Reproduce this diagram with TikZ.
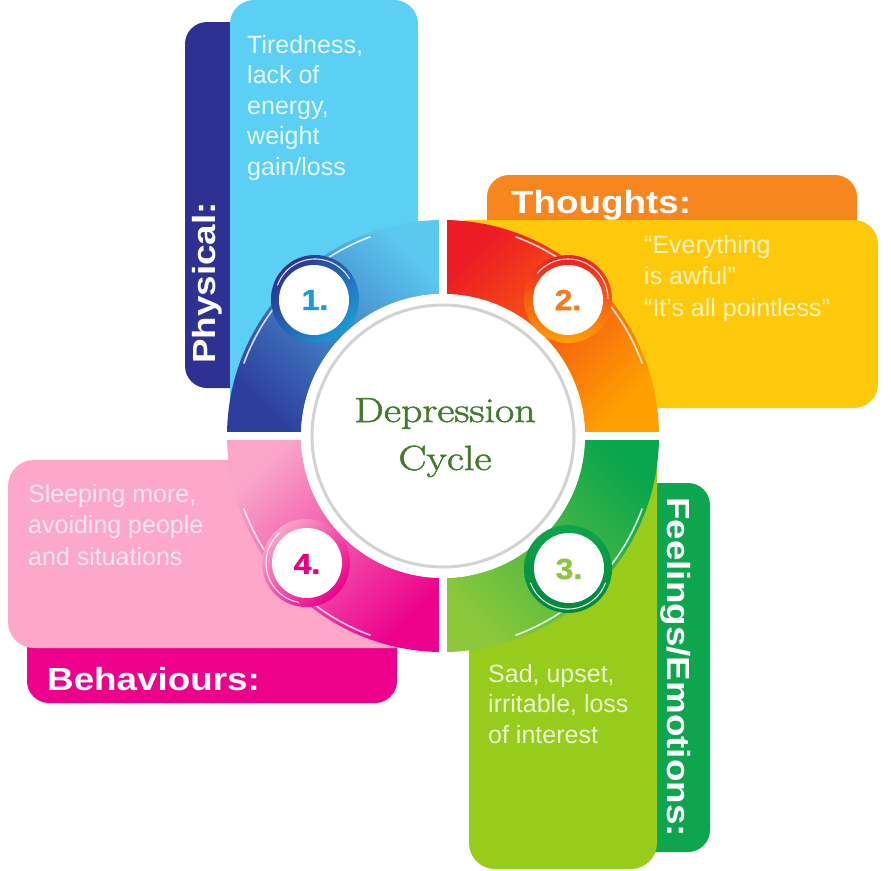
\documentclass[tikz,border=0pt]{standalone}
\usepackage{fontspec}
\setmainfont{Latin Modern Roman}
\newfontfamily\lblfont{Liberation Sans}[FakeStretch=1.15]
\newfontfamily\bodyfont{Liberation Sans}
\newfontfamily\ctrfont{Latin Modern Roman}[FakeStretch=1.2, FakeBold=1.6]
\newfontfamily\numfont{Liberation Sans}[FakeStretch=1.1, FakeBold=1.2]
\definecolor{navytab}{HTML}{2E3192}
\definecolor{physbox}{HTML}{5BD0F4}
\definecolor{orangetab}{HTML}{F7861F}
\definecolor{thoughtbox}{HTML}{FFC90B}
\definecolor{greentab}{HTML}{0EA54F}
\definecolor{feelbox}{HTML}{97CB1C}
\definecolor{behbox}{HTML}{FDA8C9}
\definecolor{magtab}{HTML}{EC008C}
\definecolor{tlA}{HTML}{5BC8F0}
\definecolor{tlB}{HTML}{2D3E9E}
\definecolor{trA}{HTML}{ED1C24}
\definecolor{trB}{HTML}{FFA000}
\definecolor{brA}{HTML}{0AA64D}
\definecolor{brB}{HTML}{8CC83A}
\definecolor{blA}{HTML}{F9A6C9}
\definecolor{blB}{HTML}{EC008C}
\definecolor{num1}{HTML}{1B9AD6}
\definecolor{num2}{HTML}{F47C20}
\definecolor{num3}{HTML}{8DC63F}
\definecolor{num4}{HTML}{E6007E}
\definecolor{ctrgreen}{HTML}{45792F}
\definecolor{phystext}{HTML}{E6F7FD}
\definecolor{thoughttext}{HTML}{FFF2BC}
\definecolor{feeltext}{HTML}{ECF6D2}
\definecolor{behtext}{HTML}{FEE6F0}
\tikzset{
  tablabel/.style={text=white, font=\lblfont\bfseries\fontsize{32}{36}\selectfont, inner sep=0},
  bodytext/.style={font=\bodyfont\fontsize{25}{31}\selectfont, align=left, inner sep=0, anchor=base west},
  badgenum/.style={font=\numfont\bfseries\fontsize{29}{30}\selectfont, inner sep=0},
  shine/.style={white, line width=1.6, opacity=0.8},
  badgeshine/.style={white, line width=1.1, opacity=0.85},
}
\begin{document}
\begin{tikzpicture}[x=1pt,y=-1pt]
\useasboundingbox (0,0) rectangle (891,870);
% tabs
\fill[navytab, rounded corners=22] (185,22) rectangle (262,388);
\fill[orangetab, rounded corners=22] (487,175) rectangle (857,250);
\fill[greentab, rounded corners=22] (630,483) rectangle (710,852);
\fill[magtab, rounded corners=22] (27,620) rectangle (397,703);
% boxes
\fill[physbox, rounded corners=24] (230,0) rectangle (418,420);
\fill[thoughtbox, rounded corners=24] (445,220) rectangle (878,408);
\fill[feelbox, rounded corners=26] (469,441) rectangle (657,869);
\fill[behbox, rounded corners=26] (8,460) rectangle (440,648);
% ring quadrants
\shade[top color=tlA, bottom color=tlB, shading angle=-45]
  (227,436) arc[start angle=180, end angle=270, radius=216] -- (443,294)
  arc[start angle=270, end angle=180, radius=142] -- cycle;
\shade[top color=trA, bottom color=trB, shading angle=45]
  (443,220) arc[start angle=270, end angle=360, radius=216] -- (585,436)
  arc[start angle=360, end angle=270, radius=142] -- cycle;
\shade[top color=brA, bottom color=brB, shading angle=-45]
  (659,436) arc[start angle=0, end angle=90, radius=216] -- (443,578)
  arc[start angle=90, end angle=0, radius=142] -- cycle;
\shade[top color=blA, bottom color=blB, shading angle=45]
  (443,652) arc[start angle=90, end angle=180, radius=216] -- (301,436)
  arc[start angle=180, end angle=90, radius=142] -- cycle;
% highlights
\draw[shine] (443,436) ++(200:212) arc[start angle=200, end angle=250, radius=212];
\draw[shine] (443,436) ++(290:212) arc[start angle=290, end angle=340, radius=212];
\draw[shine] (443,436) ++(20:212) arc[start angle=20, end angle=70, radius=212];
\draw[shine] (443,436) ++(110:212) arc[start angle=110, end angle=160, radius=212];
% white gaps
\fill[white] (439,210) rectangle (447,662);
\fill[white] (219,432) rectangle (667,440);
% centre disc
\fill[white] (443,436) circle[radius=142];
\draw[gray!35, line width=3] (443,436) circle[radius=131];
\node[font=\ctrfont\fontsize{35}{48}\selectfont, text=ctrgreen, align=center, inner sep=0, anchor=base] (centre) at (445,470) {Depression\\Cycle};
% badges
\shade[top color=navytab, bottom color=num1, shading angle=45] (315,299) circle[radius=44];
\fill[white] (314,300) circle[radius=35];
\draw[badgeshine] (315,299) ++(200:40) arc[start angle=200, end angle=330, radius=40];
\node[badgenum, text=num1] (n1) at (315,300) {1.};
\shade[top color=trA, bottom color=trB, shading angle=0] (568,299) circle[radius=44];
\fill[white] (568,300) circle[radius=35];
\draw[badgeshine] (568,299) ++(220:40) arc[start angle=220, end angle=360, radius=40];
\node[badgenum, text=num2] (n2) at (568,300) {2.};
\shade[top color=brA, bottom color=brA!80!black, shading angle=0] (568,569) circle[radius=44];
\fill[white] (569,568) circle[radius=35];
\draw[badgeshine] (568,569) ++(20:40) arc[start angle=20, end angle=160, radius=40];
\node[badgenum, text=num3] (n3) at (569,569) {3.};
\shade[top color=blA, bottom color=blB, shading angle=45] (306,563) circle[radius=44];
\fill[white] (307,563) circle[radius=35];
\draw[badgeshine] (306,563) ++(100:40) arc[start angle=100, end angle=230, radius=40];
\node[badgenum, text=num4] (n4) at (307,564) {4.};
% tab labels
\node[tablabel, anchor=base, rotate=90] (physlbl) at (215,283) {Physical:};
\node[tablabel, anchor=base west] (thoughtlbl) at (511,213) {Thoughts:};
\node[tablabel, anchor=base, rotate=-90] (feellbl) at (667,667) {Feelings/Emotions:};
\node[tablabel, anchor=base west] (behlbl) at (47,690) {Behaviours:};
% body texts (anchor = baseline of last line)
\node[bodytext, text=phystext, font=\bodyfont\fontsize{25}{30.5}\selectfont] (phystxt) at (247,175) {Tiredness,\\lack of\\energy,\\weight\\gain/loss};
\node[bodytext, text=thoughttext, font=\bodyfont\fontsize{25}{31.5}\selectfont] (thoughttxt) at (644,316) {“Everything\\is awful”\\“It’s all pointless”};
\node[bodytext, text=feeltext, font=\bodyfont\fontsize{25}{30.5}\selectfont] (feeltxt) at (488,743) {Sad, upset,\\irritable, loss\\of interest};
\node[bodytext, text=behtext, font=\bodyfont\fontsize{25}{31.5}\selectfont] (behtxt) at (28,565) {Sleeping more,\\avoiding people\\and situations};
\end{tikzpicture}
\end{document}
